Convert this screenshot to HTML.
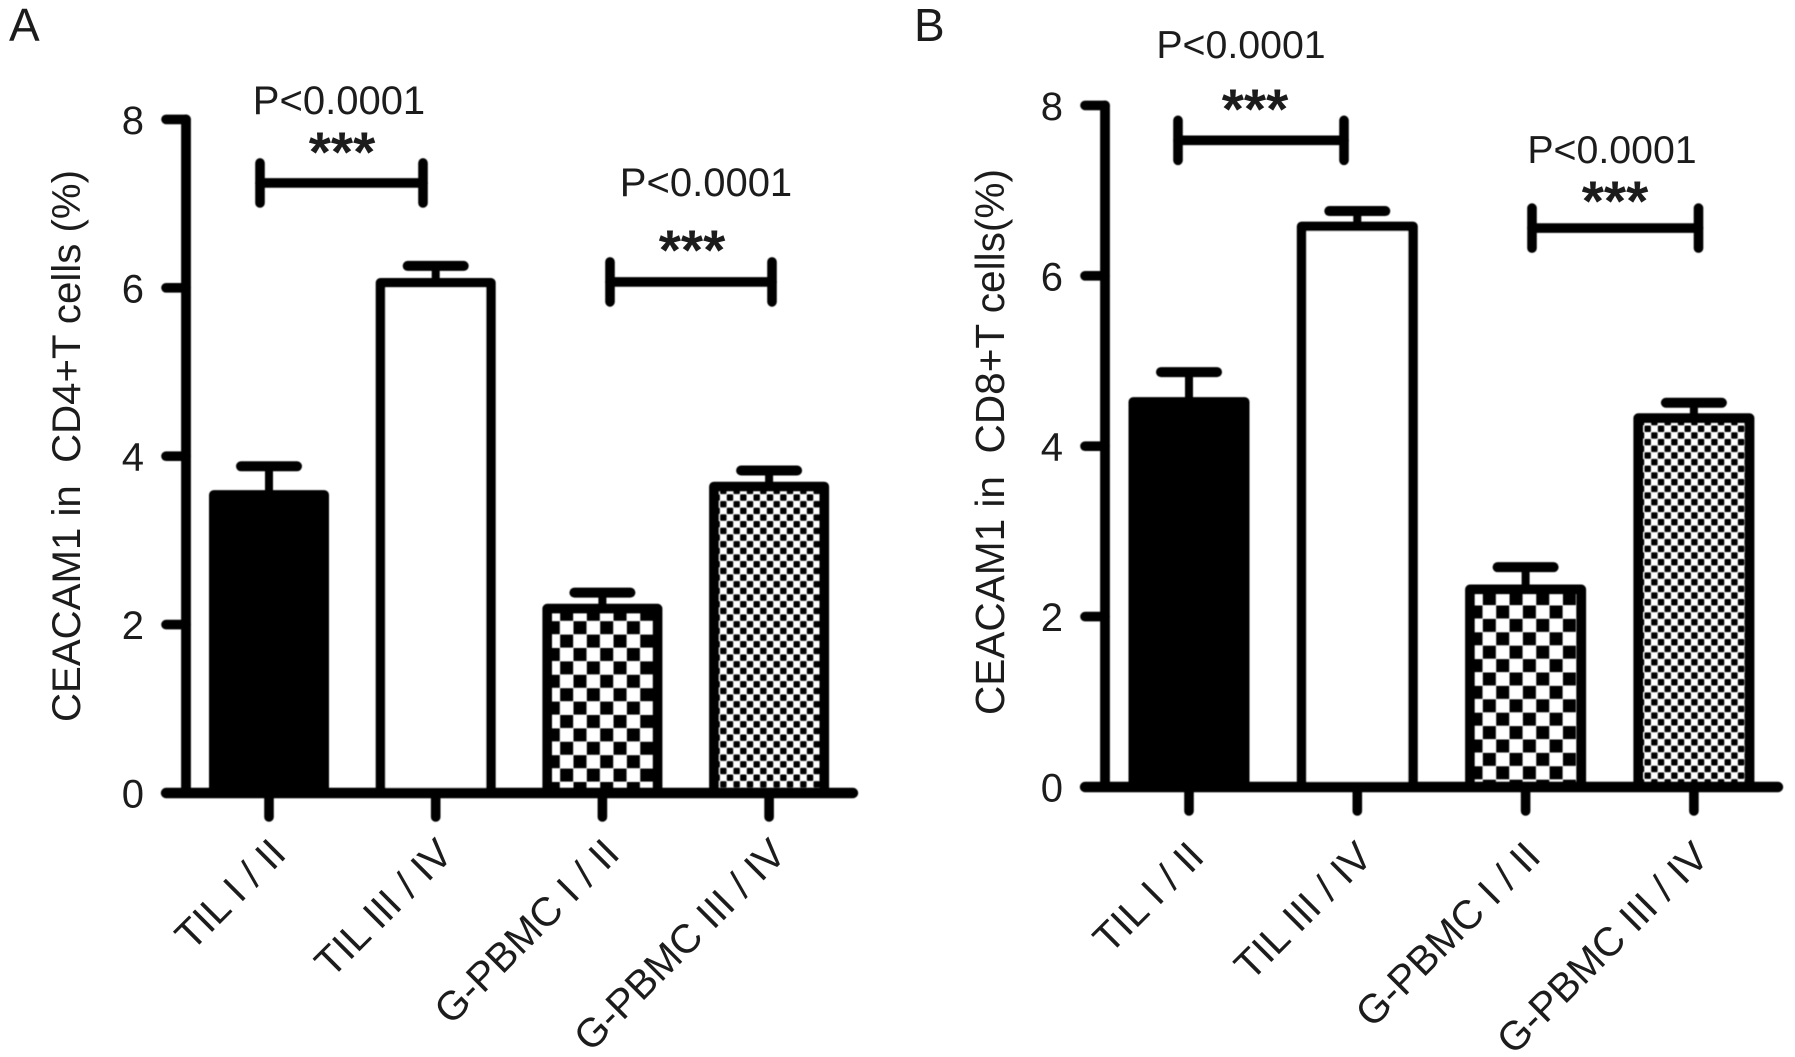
<!DOCTYPE html>
<html lang="en">
<head>
<meta charset="utf-8">
<title>CEACAM1 in CD4+ and CD8+ T cells</title>
<style>
  html, body { margin: 0; padding: 0; background: #fff; }
  svg { display: block; }
  text { font-family: "Liberation Sans", sans-serif; fill: #1c1c1c; }
</style>
</head>
<body>
<svg id="figure" xmlns="http://www.w3.org/2000/svg" width="1795" height="1057" viewBox="0 0 1795 1057">
  <defs>
    <filter id="soft" x="-5%" y="-5%" width="110%" height="110%"><feGaussianBlur stdDeviation="0.6"/></filter>
    <filter id="softText" x="-5%" y="-5%" width="110%" height="110%"><feGaussianBlur stdDeviation="0.35"/></filter>
    <pattern id="coarseA" patternUnits="userSpaceOnUse" x="573.5" y="621.2" width="26.7" height="26.8"><rect x="0" y="0" width="13" height="13" fill="#000"/><rect x="13.35" y="13.4" width="13" height="13" fill="#000"/></pattern>
    <pattern id="coarseB" patternUnits="userSpaceOnUse" x="1496.2" y="739.5" width="26.7" height="26.8"><rect x="0" y="0" width="13" height="13" fill="#000"/><rect x="13.35" y="13.4" width="13" height="13" fill="#000"/></pattern>
    <pattern id="fineA" patternUnits="userSpaceOnUse" x="726.8" y="747.8" width="13.34" height="13.34"><rect x="0" y="0" width="6.4" height="6.4" rx="1" fill="#000"/><rect x="6.67" y="6.67" width="6.4" height="6.4" rx="1" fill="#000"/></pattern>
    <pattern id="fineB" patternUnits="userSpaceOnUse" x="1644.5" y="759.1" width="13.34" height="13.34"><rect x="0" y="0" width="6.4" height="6.4" rx="1" fill="#000"/><rect x="6.67" y="6.67" width="6.4" height="6.4" rx="1" fill="#000"/></pattern>
  </defs>
  <g id="marks" filter="url(#soft)"></g>
  <g id="labels" filter="url(#softText)"></g>
</svg>
<script>
const categories = ["TIL I / II", "TIL III / IV", "G-PBMC I / II", "G-PBMC III / IV"];
const yTicks = [0, 2, 4, 6, 8];
const cd4Means = [3.54, 6.06, 2.19, 3.64];
const cd4ErrorTops = [3.88, 6.26, 2.38, 3.83];
const cd8Means = [4.52, 6.58, 2.32, 4.33];
const cd8ErrorTops = [4.87, 6.76, 2.58, 4.51];
const cd4BracketLevels = [7.245, 6.07];
const cd8BracketLevels = [7.59, 6.56];
const significanceLabels = ["P<0.0001", "P<0.0001"];

const NS = "http://www.w3.org/2000/svg";
const marks = document.getElementById("marks");
const labels = document.getElementById("labels");

function node(parent, tag, attrs, content) {
  const el = document.createElementNS(NS, tag);
  for (const k in attrs) el.setAttribute(k, attrs[k]);
  if (content !== undefined) el.textContent = content;
  parent.appendChild(el);
  return el;
}
function line(x1, y1, x2, y2, w) {
  return node(marks, "line", { x1: x1, y1: y1, x2: x2, y2: y2, stroke: "#000", "stroke-width": w, "stroke-linecap": "round" });
}

function drawPanel(cfg) {
  const y = v => cfg.y0 - cfg.unit * v;
  const x = i => cfg.x0 + cfg.step * i;
  const fills = ["#000", "#fff", "url(#" + cfg.coarse + ")", "url(#" + cfg.fine + ")"];

  const letter = node(labels, "text", { x: cfg.letterX, y: 41, "font-size": 46 }, cfg.letter);
  
  

  const title = node(labels, "text", { transform: "translate(" + cfg.titleX + "," + cfg.titleY + ") rotate(-90)", "text-anchor": "middle", "font-size": cfg.titleSize, style: "white-space:pre" }, cfg.title);
  
  

  cfg.means.forEach((m, i) => {
    const stem = line(x(i), y(m), x(i), y(cfg.errs[i]), 8);
    
    
    const cap = line(x(i) - 28, y(cfg.errs[i]), x(i) + 28, y(cfg.errs[i]), 10);
    
    
    const bar = node(marks, "rect", { x: x(i) - cfg.barW / 2, y: y(m), width: cfg.barW, height: cfg.y0 - y(m), fill: fills[i], stroke: "#000", "stroke-width": 9.6, "stroke-linejoin": "round" });
    
    

    const tick = line(x(i), cfg.y0, x(i), cfg.y0 + cfg.tickLen, 9.6);
    
    

    const lx = x(i) + cfg.labelDx;
    const ly = cfg.y0 + cfg.labelDy;
    const label = node(labels, "text", { transform: "translate(" + lx + "," + ly + ") rotate(-45)", "text-anchor": "end", "font-size": 40.5 }, categories[i]);
    
    
  });

  const yAxis = line(cfg.axisX, y(8), cfg.axisX, cfg.y0, 9.8);
  
  
  const xAxis = line(cfg.axisX - 20, cfg.y0, cfg.axisEnd, cfg.y0, 10.4);
  
  

  yTicks.forEach(t => {
    const tick = line(cfg.axisX - 20, y(t), cfg.axisX, y(t), 9.6);
    
    
    const label = node(labels, "text", { x: cfg.axisX - 42, y: y(t) + 14.5, "text-anchor": "end", "font-size": 40 }, String(t));
    
    
  });

  cfg.brackets.forEach((b, i) => {
    const by = y(cfg.levels[i]);
    const beam = line(b.x1, by, b.x2, by, 9.6);
    
    
    const capL = line(b.x1, by - 20, b.x1, by + 20, 9.6);
    
    
    const capR = line(b.x2, by - 20, b.x2, by + 20, 9.6);
    
    
    const p = node(labels, "text", { x: b.px, y: b.py, "text-anchor": "middle", "font-size": cfg.pSize }, significanceLabels[i]);
    
    
    const s = node(labels, "text", { x: b.sx, y: b.sy, "text-anchor": "middle", "font-size": 57, "font-weight": "bold" }, "***");
    
    
  });
}

drawPanel({
  letter: "A", letterX: 9, title: "CEACAM1 in  CD4+T cells (%)", titleX: 80, titleY: 446, titleSize: 40.2, pSize: 40,
  y0: 793, unit: 84.2, x0: 269, step: 166.7, barW: 110.4, tickLen: 24,
  axisX: 186, axisEnd: 853, labelDx: 19, labelDy: 63,
  coarse: "coarseA", fine: "fineA", means: cd4Means, errs: cd4ErrorTops, levels: cd4BracketLevels,
  brackets: [
    { x1: 260, x2: 423, px: 339, py: 114, sx: 342, sy: 171.5 },
    { x1: 610, x2: 772, px: 706, py: 196, sx: 692, sy: 269.5 }
  ]
});
drawPanel({
  letter: "B", letterX: 914, title: "CEACAM1 in  CD8+T cells(%)", titleX: 1004, titleY: 442, titleSize: 40.6, pSize: 39.3,
  y0: 787, unit: 85.2, x0: 1189, step: 168.3, barW: 111.4, tickLen: 24,
  axisX: 1105, axisEnd: 1778, labelDx: 17, labelDy: 72,
  coarse: "coarseB", fine: "fineB", means: cd8Means, errs: cd8ErrorTops, levels: cd8BracketLevels,
  brackets: [
    { x1: 1178, x2: 1344, px: 1241, py: 58, sx: 1255, sy: 128.5 },
    { x1: 1532, x2: 1698.5, px: 1612, py: 163, sx: 1615, sy: 220.5 }
  ]
});
</script>
</body>
</html>
